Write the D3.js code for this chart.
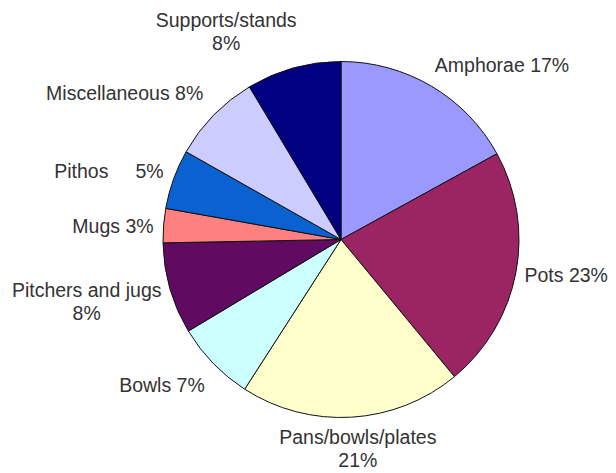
<!DOCTYPE html>
<html>
<head>
<meta charset="utf-8">
<script src="https://cdn.jsdelivr.net/npm/d3@7"></script>
<style>
  body { margin: 0; background: #fff; }
  svg { display: block; }
  text { white-space: pre; }
</style>
</head>
<body>
<div id="chart"></div>
<script>
// slice shares (clockwise from 12 o'clock)
const categories = ["Amphorae", "Pots", "Pans/bowls/plates", "Bowls", "Pitchers and jugs", "Mugs", "Pithos", "Miscellaneous", "Supports/stands"];
const shares = [17, 22, 20.1, 7.3, 8.3, 3.1, 5.4, 8.2, 8.6];
const pctLabels = ["17%", "23%", "21%", "7%", "8%", "3%", "5%", "8%", "8%"];
const colors = ["#9999ff", "#9b2462", "#ffffcc", "#ccffff", "#600a62", "#ff8080", "#0a62d0", "#ccccff", "#000080"];

// label layout: separator between name and percent, anchor and nudge from outer-arc point
const labelSep = [" ", " ", "\n", " ", "\n", " ", "     ", " ", "\n"];
const labelAnchor = ["start", "start", "middle", "end", "middle", "end", "end", "end", "middle"];
const labelNudge = [[-7, 3], [-11, 5], [5, 7], [6, 15], [-64, 3], [10, 9], [9, 6], [4, -1], [-62, -22]];

const width = 616, height = 473;
const cx = 341, cy = 239.5, radius = 178, labelGap = 20;

const svg = d3.select("#chart").append("svg")
  .attr("width", width)
  .attr("height", height);

const pie = d3.pie().sort(null).value(d => d);
const arcs = pie(shares);

const arc = d3.arc().innerRadius(0).outerRadius(radius);

const g = svg.append("g").attr("transform", "translate(" + cx + "," + cy + ")");

g.selectAll("path")
  .data(arcs)
  .enter()
  .append("path")
  .attr("d", arc)
  .attr("fill", (d, i) => colors[i])
  .attr("stroke", "#111")
  .attr("stroke-width", 1);

const labels = g.selectAll("text.label")
  .data(arcs)
  .enter()
  .append("text")
  .attr("class", "label")
  .attr("font-family", "'Liberation Sans', Arial, sans-serif")
  .attr("font-size", 19.5)
  .attr("fill", "#333")
  .attr("text-anchor", (d, i) => labelAnchor[i])
  .attr("transform", function (d, i) {
    let a = (d.startAngle + d.endAngle) / 2;
    let r = radius + labelGap;
    let x = r * Math.sin(a) + labelNudge[i][0];
    let y = -r * Math.cos(a) + labelNudge[i][1];
    return "translate(" + x + "," + y + ")";
  });

labels.each(function (d, i) {
  let lines = (categories[i] + labelSep[i] + pctLabels[i]).split("\n");
  d3.select(this).selectAll("tspan")
    .data(lines)
    .enter()
    .append("tspan")
    .attr("x", 0)
    .attr("dy", (l, j) => j === 0 ? 0 : 23)
    .text(l => l);
});
</script>
</body>
</html>
